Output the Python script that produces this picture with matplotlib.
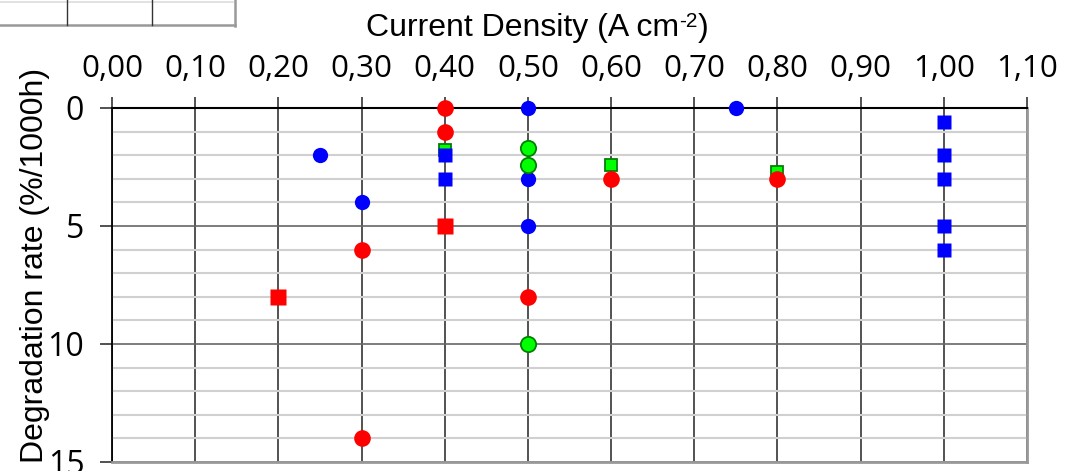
import matplotlib
matplotlib.use("Agg")
import matplotlib.pyplot as plt
from matplotlib.lines import Line2D
from matplotlib.ticker import FuncFormatter, MultipleLocator

# data
blue_circle_x = [0.25, 0.30, 0.50, 0.50, 0.50, 0.75]
blue_circle_y = [2, 4, 0, 3, 5, 0]
blue_square_x = [0.40, 0.40, 1.00, 1.00, 1.00, 1.00, 1.00]
blue_square_y = [2, 3, 0.6, 2, 3, 5, 6]
red_circle_x = [0.40, 0.40, 0.30, 0.30, 0.50, 0.60, 0.80]
red_circle_y = [0, 1, 6, 14, 8, 3, 3]
red_square_x = [0.40, 0.20]
red_square_y = [5, 8]
green_circle_x = [0.50, 0.50, 0.50]
green_circle_y = [1.7, 2.4, 10]
green_square_x = [0.40, 0.60, 0.80]
green_square_y = [1.8, 2.4, 2.7]

W, H = 1067, 471
fig = plt.figure(figsize=(W / 100, H / 100), dpi=100)
ax = fig.add_axes([112 / W, 9 / H, 915 / W, 354 / H])

ax.set_xlim(0, 1.10)
ax.set_ylim(15, 0)

ax.xaxis.set_major_locator(MultipleLocator(0.1))
ax.yaxis.set_major_locator(MultipleLocator(5))
ax.yaxis.set_minor_locator(MultipleLocator(1))
ax.xaxis.set_major_formatter(FuncFormatter(lambda v, p: f"{v:.2f}".replace(".", ",")))
ax.xaxis.tick_top()

ax.grid(axis="y", which="minor", color="#d0d0d0", lw=1.5, zorder=0)
ax.grid(axis="y", which="major", color="#666666", lw=1.2, zorder=0)
ax.grid(axis="x", which="major", color="#444444", lw=1.3, zorder=0)

ax.tick_params(axis="x", which="major", length=8, width=1.3, color="#444444",
               pad=9, labelsize=22.5)
ax.tick_params(axis="y", which="major", length=9, width=1.2, color="#333333",
               pad=11, labelsize=23)
ax.tick_params(axis="y", which="minor", length=0)
for lab in ax.get_xticklabels() + ax.get_yticklabels():
    lab.set_fontfamily("Open Sans")

ax.spines["top"].set_color("black")
ax.spines["top"].set_linewidth(1.5)
ax.spines["left"].set_color("black")
ax.spines["left"].set_linewidth(1.3)
ax.spines["right"].set_color("#999999")
ax.spines["right"].set_linewidth(2)
ax.spines["bottom"].set_color("#999999")
ax.spines["bottom"].set_linewidth(2)

ms_c = 11
ms_s = 10
ax.plot(blue_circle_x, blue_circle_y, "o", color="#0000ff", ms=ms_c, mec="none", zorder=3, clip_on=False)
ax.plot(green_square_x, green_square_y, "s", color="#00ff00", ms=ms_s - 1, mec="#008000", mew=1.3, zorder=4, clip_on=False)
ax.plot(blue_square_x, blue_square_y, "s", color="#0000ff", ms=ms_s, mec="none", zorder=5, clip_on=False)
ax.plot(green_circle_x, green_circle_y, "o", color="#00ff00", ms=ms_c, mec="#008000", mew=1.3, zorder=6, clip_on=False)
ax.plot(red_square_x, red_square_y, "s", color="#ff0000", ms=ms_s + 1, mec="none", zorder=7, clip_on=False)
ax.plot(red_circle_x, red_circle_y, "o", color="#ff0000", ms=ms_c + 1, mec="none", zorder=7, clip_on=False)

# x title with a small superscript, laid out piece by piece
r = fig.canvas.get_renderer()
t1 = fig.text(0, 1 - 36 / H, "Current Density (A cm", fontsize=23, family="Liberation Sans", va="baseline")
t2 = fig.text(0, 1 - 36 / H, "-2", fontsize=15, family="Liberation Sans", va="baseline")
t3 = fig.text(0, 1 - 36 / H, ")", fontsize=23, family="Liberation Sans", va="baseline")
w1 = t1.get_window_extent(r).width
w2 = t2.get_window_extent(r).width
w3 = t3.get_window_extent(r).width
x0 = 537 - (w1 + w2 + w3) / 2
t1.set_x(x0 / W)
t2.set_x((x0 + w1) / W)
t2.set_y(1 - 27 / H)
t3.set_x((x0 + w1 + w2) / W)

fig.text(35 / W, 1 - 265 / H, "Degradation rate (%/1000h)", rotation=90,
         ha="center", va="center", fontsize=23, family="Liberation Sans")

# fragment of a neighbouring table cut off at the top left
def px_line(x0, y0, x1, y1, color, lw):
    fig.add_artist(Line2D([x0 / W, x1 / W], [1 - y0 / H, 1 - y1 / H],
                          color=color, lw=lw, transform=fig.transFigure))

px_line(0, 2, 233, 2, "#dddddd", 1.2)
px_line(0, 25, 235, 25, "#999999", 1.8)
px_line(67, 0, 67, 25, "#333333", 1.0)
px_line(152, 0, 152, 25, "#333333", 1.0)
px_line(235, 0, 235, 26, "#999999", 1.8)

fig.savefig("out.png", dpi=100)
